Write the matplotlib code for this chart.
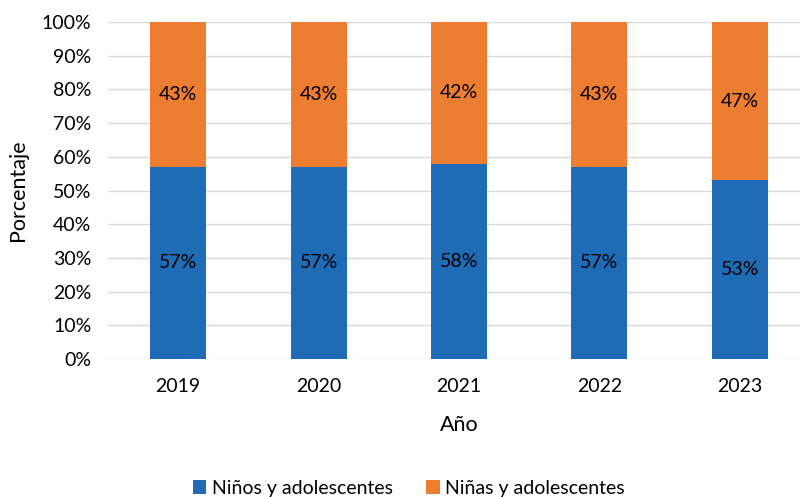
import numpy as np
import matplotlib.pyplot as plt
from matplotlib.ticker import PercentFormatter

years = ["2019", "2020", "2021", "2022", "2023"]
ninos = [57, 57, 58, 57, 53]
ninas = [43, 43, 42, 43, 47]
labels = ["Niños y adolescentes", "Niñas y adolescentes"]

plt.rcParams['font.family'] = ['Lato', 'DejaVu Sans']

fig = plt.figure(figsize=(8, 4.97), dpi=100)
ax = fig.add_axes([108 / 800, 138 / 497, 702 / 800, 337 / 497])

x = np.arange(len(years))
b1 = ax.bar(x, ninos, width=0.4, color="#1f6bb5", label=labels[0], zorder=3)
b2 = ax.bar(x, ninas, width=0.4, bottom=ninos, color="#ed7d31", label=labels[1], zorder=3)

for xi, v1, v2 in zip(x, ninos, ninas):
    ax.text(xi, v1 / 2, f"{v1}%", ha="center", va="center", fontsize=14, zorder=4)
    ax.text(xi, v1 + v2 / 2, f"{v2}%", ha="center", va="center", fontsize=14, zorder=4)

ax.set_xlim(-0.5, len(years) - 0.5)
ax.set_ylim(0, 100)
ax.set_yticks(range(0, 101, 10))
ax.yaxis.set_major_formatter(PercentFormatter(decimals=0))
ax.set_xticks(x)
ax.set_xticklabels(years)
ax.tick_params(axis="both", length=0, labelsize=14)
ax.tick_params(axis="x", pad=14)
ax.tick_params(axis="y", pad=12)
ax.grid(axis="y", color="#d9d9d9", linewidth=1, zorder=0)
for s in ax.spines.values():
    s.set_visible(False)

ax.set_ylabel("Porcentaje", fontsize=15.5, labelpad=10)
ax.set_xlabel("Año", fontsize=15.5, labelpad=14)

fig.legend(handles=[b1, b2], labels=labels, loc="lower center",
           bbox_to_anchor=(0.511, -0.035), ncol=2, frameon=False, fontsize=14,
           handlelength=0.7, handleheight=0.7, handletextpad=0.3, columnspacing=1.7)

fig.savefig("out.png", dpi=100)
